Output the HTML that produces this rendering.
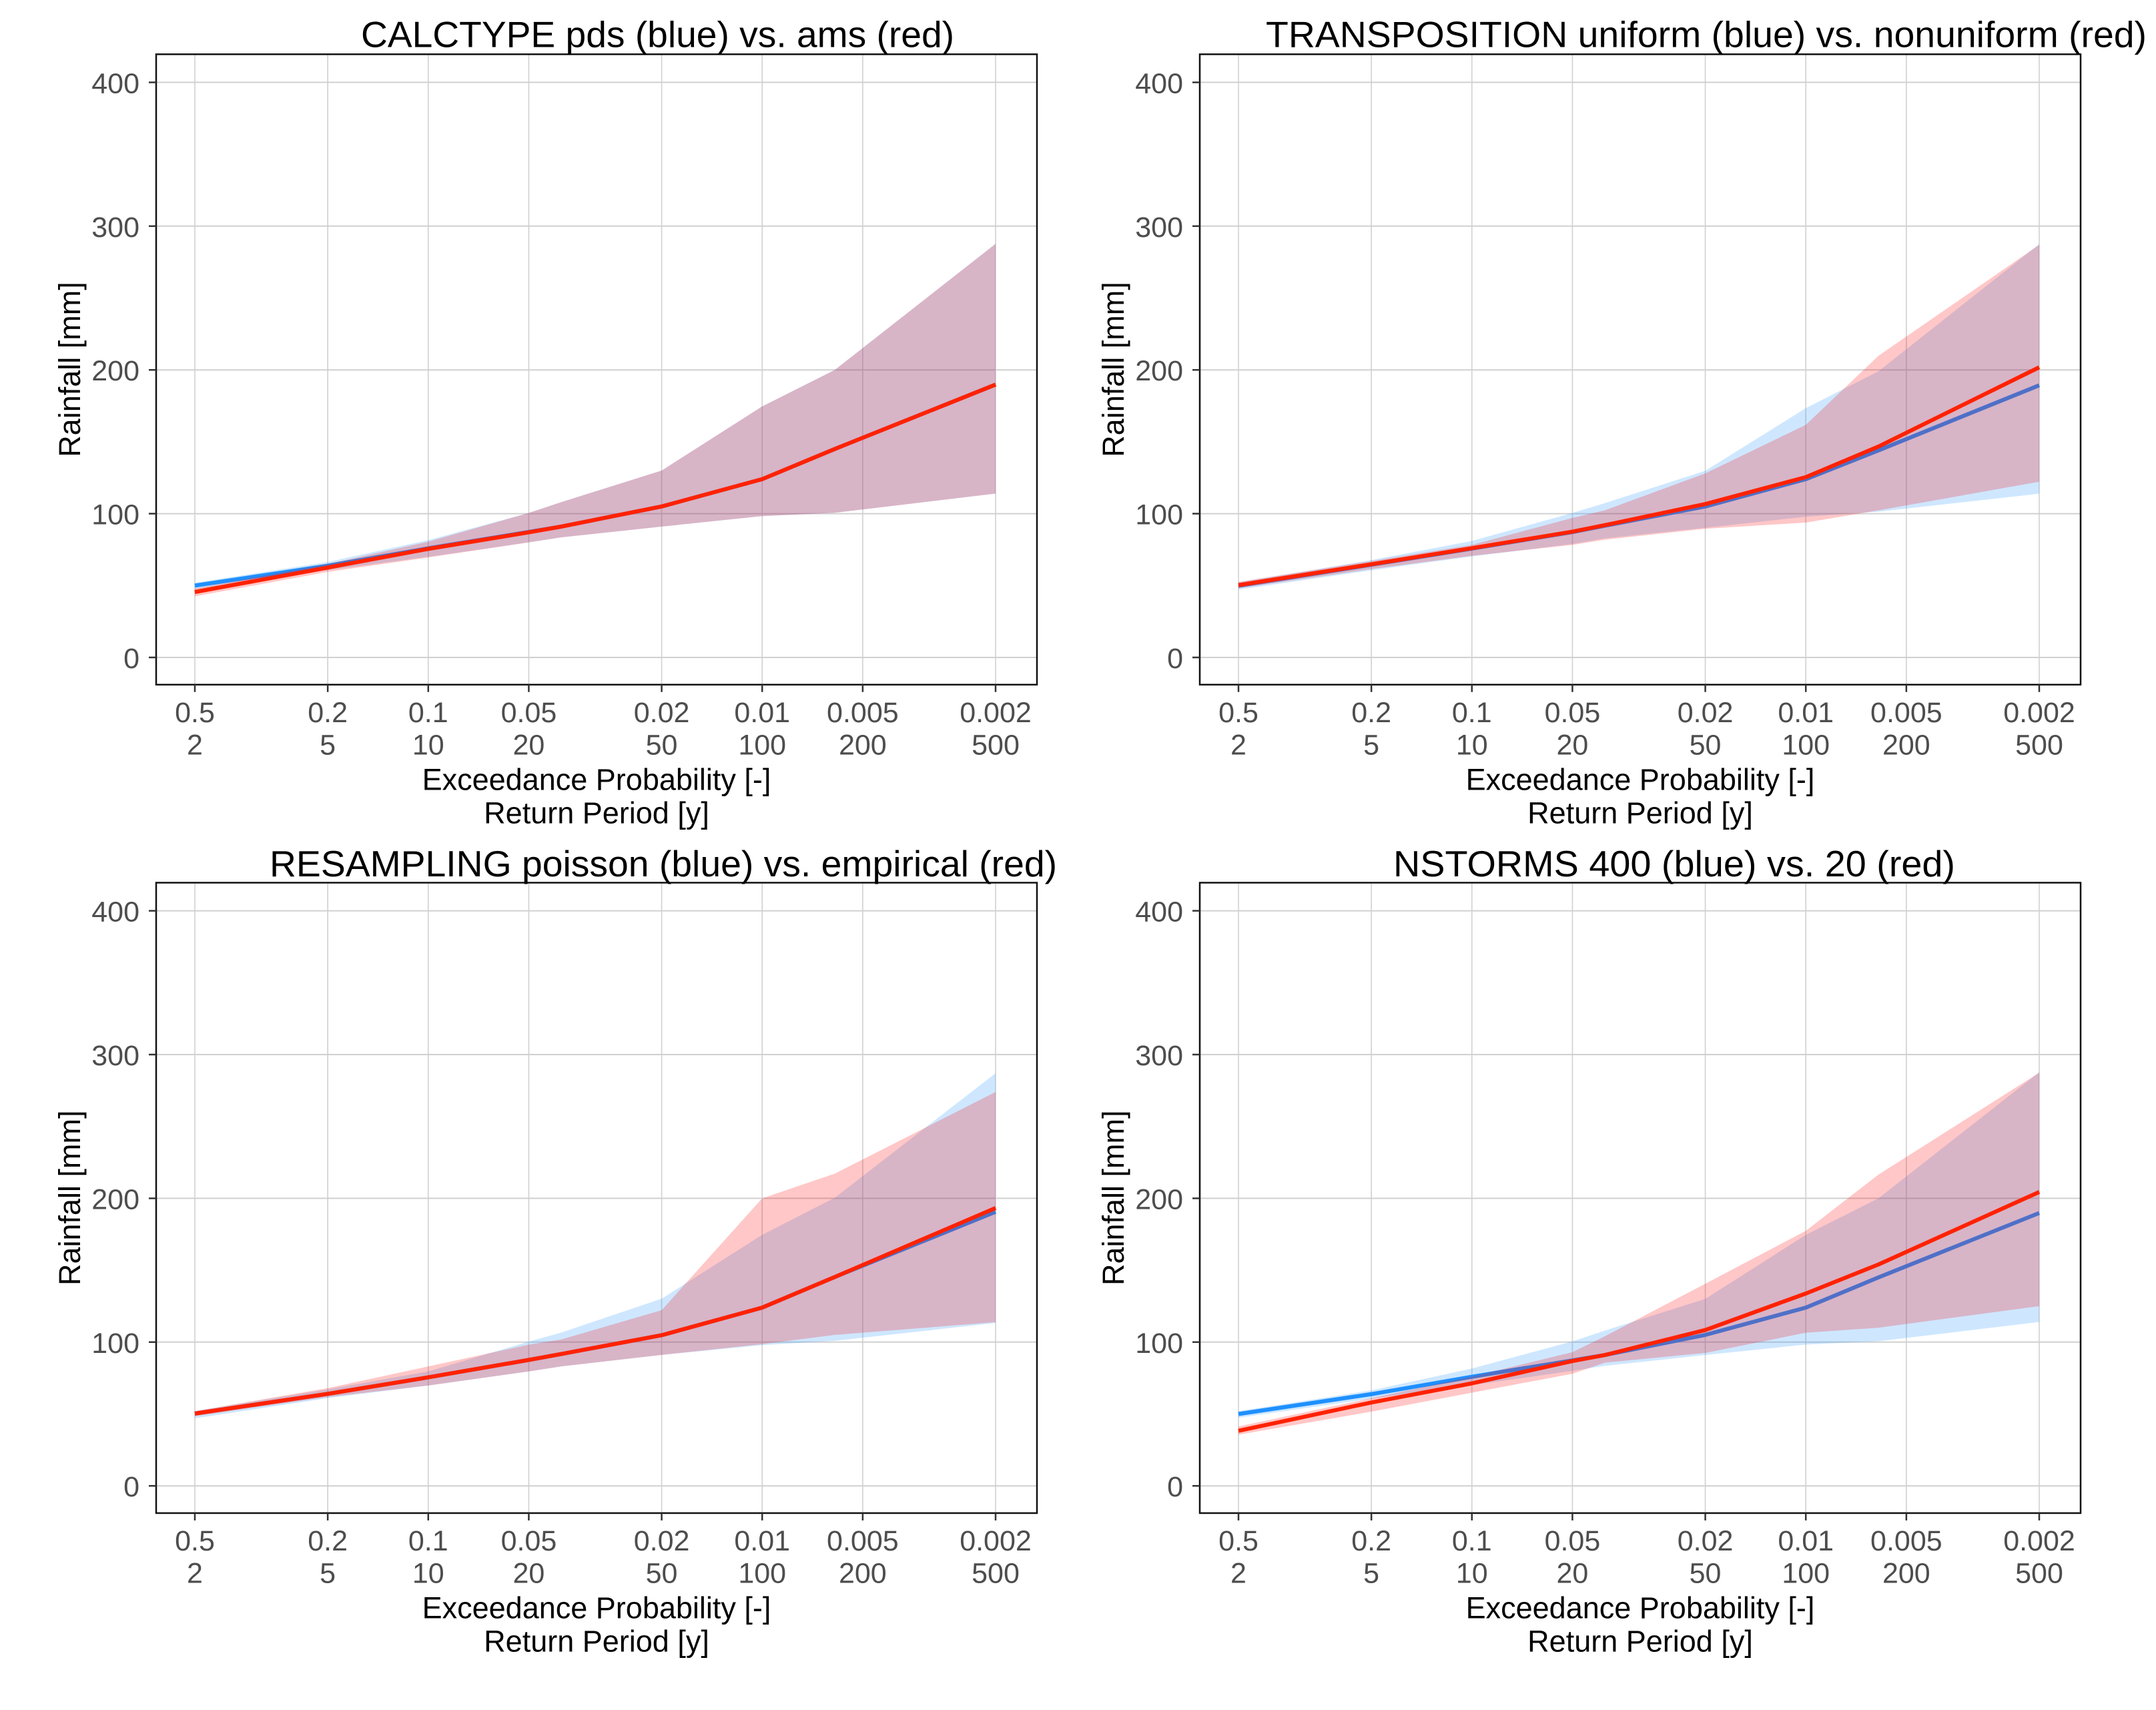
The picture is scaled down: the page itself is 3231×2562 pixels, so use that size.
<!DOCTYPE html>
<html><head><meta charset="utf-8"><style>
html,body{margin:0;padding:0;background:#fff;}
svg{display:block;font-family:"Liberation Sans",Arial,sans-serif;}
</style></head><body>
<svg id="chart" width="3231" height="2562" viewBox="0 0 3231 2562" xmlns="http://www.w3.org/2000/svg"></svg>
<script>
const returnPeriods = [2,5,10,20,25,50,100,165,500];
const xTickProb = ["0.5","0.2","0.1","0.05","0.02","0.01","0.005","0.002"];
const xTickRP = [2,5,10,20,50,100,200,500];
const yTicks = [0,100,200,300,400];

const titles = ["CALCTYPE pds (blue) vs. ams (red)","TRANSPOSITION uniform (blue) vs. nonuniform (red)","RESAMPLING poisson (blue) vs. empirical (red)","NSTORMS 400 (blue) vs. 20 (red)"];

// Panel 1
const p1BlueMid = [50,63.8,75.9,87.3,91,105,124,145,189.8];
const p1BlueLo  = [47.4,60.7,70,80,83.5,91,98.3,100.6,114];
const p1BlueHi  = [52,66.4,81.6,100.5,108,130,174.6,200,287.7];
const p1RedMid  = [45.5,62.5,75.5,87,91,105,124,145,189.8];
const p1RedLo   = [42.5,59.5,69.5,80,83.5,91,98.3,100.6,114];
const p1RedHi   = [48,65,80.5,100.5,108,130,174.6,200,287.7];
// Panel 2
const p2BlueMid = [49.9,64.5,75.7,87.2,91.6,105,124,144,189.3];
const p2BlueLo  = [47.2,60.6,70.3,78.9,82.8,90.2,97.9,101.4,113.9];
const p2BlueHi  = [52.2,67.7,81,100.5,107.3,129.8,173.4,199,287.5];
const p2RedMid  = [50.3,64.8,76,87.5,92,106.7,125.4,146.7,201.8];
const p2RedLo   = [48.1,61.5,70.7,78.3,81.9,89.5,93.8,102.3,122.2];
const p2RedHi   = [52.6,67.1,78.3,97,102.3,128,161.8,209.8,287];
// Panel 3
const p3BlueMid = [50.3,64,75.5,87.6,91.7,104.8,124,145.3,190.6];
const p3BlueLo  = [47,61,69.8,79.6,83.1,91.1,97.9,100.9,113.3];
const p3BlueHi  = [52,67.1,79.6,100.4,106.6,130.2,174.6,200.4,287];
const p3RedMid  = [50.3,64,75.5,87.6,91.7,104.8,124,145.3,193.3];
const p3RedLo   = [48.5,61.8,69.8,79.6,83.1,91.1,98.6,105,113.9];
const p3RedHi   = [52,68,83.1,98.2,101.8,122.2,200,217.2,274];
// Panel 4
const p4BlueMid = [50,63.8,75.9,87.3,91,105,124,145,189.8];
const p4BlueLo  = [47.4,60.7,70,80,83.5,91,98.3,100.6,114];
const p4BlueHi  = [52,66.4,81.6,100.5,108,130,174.6,200,287.7];
const p4RedMid  = [38.3,58,71.3,86.8,91,108.4,133.8,154,204.4];
const p4RedLo   = [35.6,51.6,64.8,78,85.7,92.5,106.5,110,125];
const p4RedHi   = [41.3,61,76,93,104,140.6,177.4,216.5,287.4];

const panels = [
 {bm:p1BlueMid,bl:p1BlueLo,bh:p1BlueHi,rm:p1RedMid,rl:p1RedLo,rh:p1RedHi},
 {bm:p2BlueMid,bl:p2BlueLo,bh:p2BlueHi,rm:p2RedMid,rl:p2RedLo,rh:p2RedHi},
 {bm:p3BlueMid,bl:p3BlueLo,bh:p3BlueHi,rm:p3RedMid,rl:p3RedLo,rh:p3RedHi},
 {bm:p4BlueMid,bl:p4BlueLo,bh:p4BlueHi,rm:p4RedMid,rl:p4RedLo,rh:p4RedHi}
];
const layout = [
 {l:234,t:81.3,tx:541,tw:889,ty:70.5},
 {l:1798,t:81.3,tx:1897,tw:1320,ty:70.5},
 {l:234,t:1322.5,tx:404,tw:1180,ty:1313},
 {l:1798,t:1322.5,tx:2088,tw:842,ty:1313}
];
const W=1320,H=944.5;
const NS="http://www.w3.org/2000/svg";
const svg=document.getElementById('chart');
function mk(tag,attrs,parent){const e=document.createElementNS(NS,tag);for(const k in attrs)e.setAttribute(k,attrs[k]);(parent||svg).appendChild(e);return e;}

panels.forEach((p,i)=>{
  const L=layout[i];
  const g=mk('g',{});
  
  
  const xs=T=>L.l+58+Math.log(T/2)/Math.log(250)*1200;
  const ys=v=>L.t+903.7-v*2.154;
  yTicks.forEach(v=>{
    const ln=mk('line',{x1:L.l,x2:L.l+W,y1:ys(v),y2:ys(v),stroke:'#d0d0d0','stroke-width':2},g);
    
    
  });
  xTickRP.forEach(T=>{
    const ln=mk('line',{x1:xs(T),x2:xs(T),y1:L.t,y2:L.t+H,stroke:'#d0d0d0','stroke-width':1.6},g);
    
    
  });
  function ribbon(lo,hi,color,name){
    let d='';
    returnPeriods.forEach((T,k)=>{d+=(k?'L':'M')+xs(T)+','+ys(hi[k]);});
    for(let k=returnPeriods.length-1;k>=0;k--)d+='L'+xs(returnPeriods[k])+','+ys(lo[k]);
    const e=mk('path',{d:d+'Z',fill:color,'fill-opacity':0.22,stroke:'none'},g);
    
    
  }
  function line(v,color,name){
    const pts=returnPeriods.map((T,k)=>xs(T)+','+ys(v[k])).join(' ');
    const e=mk('polyline',{points:pts,fill:'none',stroke:color,'stroke-width':6,'stroke-linejoin':'round'},g);
    
    
  }
  ribbon(p.bl,p.bh,'#1E90FF','blue-ribbon');
  line(p.bm,'#1E90FF','blue-line');
  ribbon(p.rl,p.rh,'#FF0000','red-ribbon');
  line(p.rm,'#FF2200','red-line');
  const fr=mk('rect',{x:L.l,y:L.t,width:W,height:H,fill:'none',stroke:'#111','stroke-width':2.5},g);
  
  
  yTicks.forEach(v=>{
    mk('line',{x1:L.l-11,x2:L.l,y1:ys(v),y2:ys(v),stroke:'#333','stroke-width':2.5},g);
    const t=mk('text',{x:L.l-25,y:ys(v)+16,'text-anchor':'end','font-size':43,fill:'#4d4d4d'},g);
    t.textContent=v;
    
    
  });
  xTickRP.forEach((T,k)=>{
    mk('line',{x1:xs(T),x2:xs(T),y1:L.t+H,y2:L.t+H+11,stroke:'#333','stroke-width':2.5},g);
    const t1=mk('text',{x:xs(T),y:L.t+H+56,'text-anchor':'middle','font-size':43,fill:'#4d4d4d'},g);
    t1.textContent=xTickProb[k];
    
    
    const t2=mk('text',{x:xs(T),y:L.t+H+104.5,'text-anchor':'middle','font-size':43,fill:'#4d4d4d'},g);
    t2.textContent=T;
    
    
  });
  const cx=L.l+W/2;
  const a1=mk('text',{x:cx,y:L.t+H+157.5,'text-anchor':'middle','font-size':45,fill:'#000'},g);
  a1.textContent='Exceedance Probability [-]';
  
  
  const a2=mk('text',{x:cx,y:L.t+H+207.5,'text-anchor':'middle','font-size':45,fill:'#000'},g);
  a2.textContent='Return Period [y]';
  
  
  const ya=mk('text',{transform:`translate(${L.l-114},${L.t+H/2}) rotate(-90)`,'text-anchor':'middle','font-size':45,fill:'#000'},g);
  ya.textContent='Rainfall [mm]';
  
  
  const tt=mk('text',{x:L.tx,y:L.ty,'font-size':55,fill:'#000',textLength:L.tw,lengthAdjust:'spacingAndGlyphs'},g);
  tt.textContent=titles[i];
  
  
});
</script>
</body></html>
